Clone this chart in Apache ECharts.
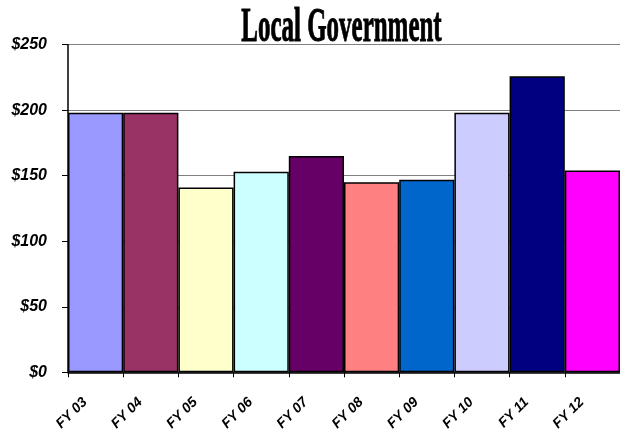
<!DOCTYPE html>
<html>
<head>
<meta charset="utf-8">
<script src="https://cdn.jsdelivr.net/npm/echarts@6/dist/echarts.min.js"></script>
<style>html,body{margin:0;padding:0;background:#fff;}#c{width:620px;height:434px;}</style>
</head>
<body>
<div id="c"></div>
<script>
var categories = ['FY 03','FY 04','FY 05','FY 06','FY 07','FY 08','FY 09','FY 10','FY 11','FY 12'];
var values = [198, 198, 141, 153, 165, 145, 147, 198, 226, 154];
var colors = ['#9999FF','#993366','#FFFFCC','#CCFFFF','#660066','#FF8080','#0066CC','#CCCCFF','#000080','#FF00FF'];
var titleText = 'Local Government';

var chart = echarts.init(document.getElementById('c'));
chart.setOption({
  animation: false,
  backgroundColor: '#fff',
  graphic: [{
    type: 'text',
    x: 341.5, y: 53,
    scaleX: 0.52,
    z: 100,
    style: {
      text: titleText,
      font: 'bold 48px "Liberation Serif"',
      fill: '#000',
      stroke: '#000',
      lineWidth: 1,
      textAlign: 'center',
      textVerticalAlign: 'bottom'
    }
  }],
  grid: { left: 68, right: 0, top: 44.7, bottom: 61.7 },
  xAxis: {
    type: 'category',
    data: categories,
    axisLine: { lineStyle: { color: '#000', width: 1.5 } },
    axisTick: { show: true, alignWithLabel: false, length: 5, lineStyle: { color: '#000' } },
    axisLabel: {
      rotate: 45, interval: 0, margin: 17,
      padding: [0, 15, 0, 0],
      fontFamily: 'Liberation Sans', fontWeight: 'bold', fontStyle: 'italic',
      fontSize: 14, color: '#000'
    }
  },
  yAxis: {
    type: 'value', min: 0, max: 250, interval: 50,
    axisLine: { show: true, lineStyle: { color: '#000', width: 1.5 } },
    axisTick: { show: true, length: 6, lineStyle: { color: '#000' } },
    splitLine: { lineStyle: { color: '#808080', width: 1.2 } },
    axisLabel: {
      margin: 21,
      formatter: function (v) { return '$' + v; },
      fontFamily: 'Liberation Sans', fontWeight: 'bold', fontStyle: 'italic',
      fontSize: 16, color: '#000'
    }
  },
  series: [{
    type: 'bar',
    barCategoryGap: 0,
    data: values.map(function (v, i) {
      return { value: v, itemStyle: { color: colors[i] } };
    }),
    itemStyle: { borderColor: '#000', borderWidth: 1.5 }
  }]
});
</script>
</body>
</html>
